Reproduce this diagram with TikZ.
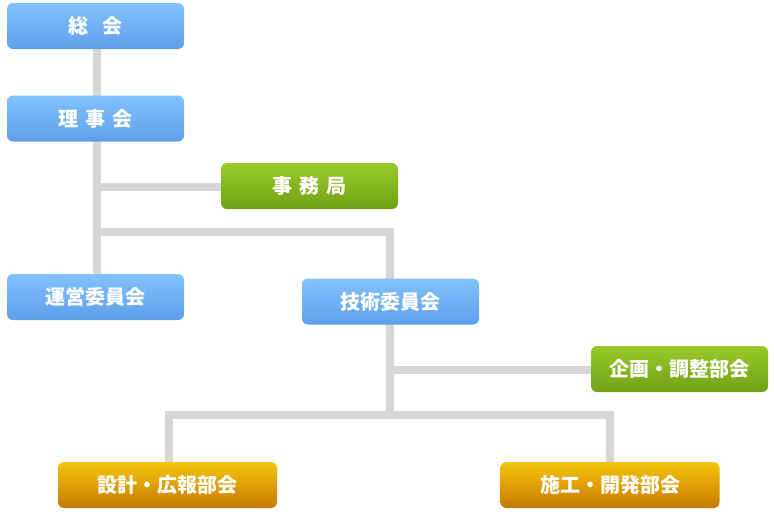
\documentclass[tikz,border=0pt]{standalone}
\usepackage{fontspec}
\newfontfamily\jp{Noto Sans CJK JP}
\definecolor{blueT}{HTML}{82C2FF}
\definecolor{blueB}{HTML}{5E9FEA}
\definecolor{greenT}{HTML}{98CA2A}
\definecolor{greenB}{HTML}{72A016}
\definecolor{orT}{HTML}{F6C60C}
\definecolor{orB}{HTML}{C67800}
\definecolor{lineg}{HTML}{D6D6D6}
\tikzset{
  box/.style={rounded corners=6pt, minimum width=177pt, minimum height=46pt, inner sep=0pt,
    text=white, font=\jp\bfseries\fontsize{20}{22}\selectfont},
  bluebox/.style={box, top color=blueT, bottom color=blueB},
  greenbox/.style={box, top color=greenT, bottom color=greenB},
  orbox/.style={box, top color=orT, bottom color=orB, minimum width=219pt},
  conn/.style={draw=lineg, line width=8pt}
}
\begin{document}
\begin{tikzpicture}[x=1pt,y=-1pt]
\useasboundingbox (0,0) rectangle (774,515);
\coordinate (j1) at (97,187);
\coordinate (j2) at (97,232);
\coordinate (j3) at (390,232);
\coordinate (j4) at (390,370);
\coordinate (j5) at (390,415);
\coordinate (j6) at (169,415);
\coordinate (j7) at (610,415);
% lines
\draw[conn] (97,26) -- (97,297);
\draw[conn] (j1) -- (309,187);
\draw[conn] (j2) -- (j3) -- (390,301);
\draw[conn] (390,301) -- (j5);
\draw[conn] (j4) -- (679,370);
\draw[conn] (169,485) -- (j6) -- (j7) -- (610,485);
% nodes
\node[bluebox] (sokai) at (95.5,26) {総\hspace{0.7em}会};
\node[bluebox] (rijikai) at (95.5,118.5) {理\hspace{0.33em}事\hspace{0.33em}会};
\node[greenbox] (jimu) at (309.5,186) {事\hspace{0.33em}務\hspace{0.33em}局};
\node[bluebox] (unei) at (95.5,297) {運営委員会};
\node[bluebox] (gijutsu) at (390.5,301.5) {技術委員会};
\node[greenbox] (kikaku) at (679.5,369) {企画・調整部会};
\node[orbox] (sekkei) at (167.5,485) {設計・広報部会};
\node[orbox] (seko) at (610,485) {施工・開発部会};
\end{tikzpicture}
\end{document}
